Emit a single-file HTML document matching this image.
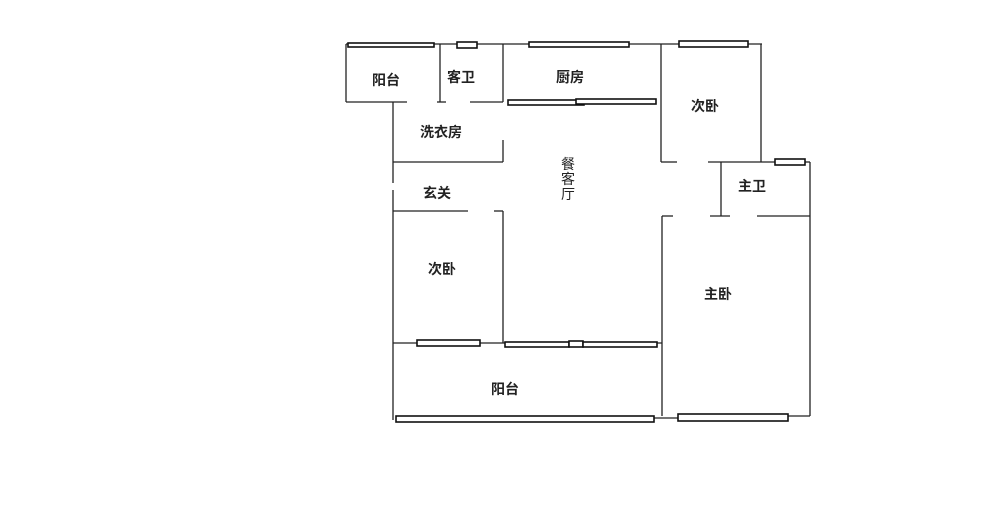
<!DOCTYPE html>
<html><head><meta charset="utf-8"><style>
html,body{margin:0;padding:0;background:#fff;}
svg{display:block}
text{font-family:"Liberation Sans","Noto Sans CJK SC",sans-serif;font-size:14px;font-weight:bold;fill:#222;text-anchor:middle;dominant-baseline:central}
</style></head><body>
<svg width="1000" height="516" viewBox="0 0 1000 516">
<g stroke="#222" stroke-width="1.3" fill="none">
<line x1="346" y1="44" x2="762" y2="44"/>
<line x1="346" y1="44" x2="346" y2="102"/>
<line x1="346" y1="102" x2="407" y2="102"/>
<line x1="437" y1="102" x2="446" y2="102"/>
<line x1="470" y1="102" x2="503" y2="102"/>
<line x1="440" y1="44" x2="440" y2="102"/>
<line x1="503" y1="44" x2="503" y2="102"/>
<line x1="661" y1="44" x2="661" y2="162"/>
<line x1="393" y1="102" x2="393" y2="183"/>
<line x1="393" y1="190" x2="393" y2="420"/>
<line x1="393" y1="162" x2="503" y2="162"/>
<line x1="503" y1="140" x2="503" y2="162"/>
<line x1="393" y1="211" x2="468" y2="211"/>
<line x1="494" y1="211" x2="503" y2="211"/>
<line x1="503" y1="211" x2="503" y2="343"/>
<line x1="393" y1="343" x2="503" y2="343"/>
<line x1="503" y1="343" x2="662" y2="343"/>
<line x1="761" y1="44" x2="761" y2="162"/>
<line x1="661" y1="162" x2="677" y2="162"/>
<line x1="708" y1="162" x2="775" y2="162"/>
<line x1="805" y1="162" x2="810" y2="162"/>
<line x1="810" y1="162" x2="810" y2="416"/>
<line x1="721" y1="162" x2="721" y2="216"/>
<line x1="710" y1="216" x2="730" y2="216"/>
<line x1="757" y1="216" x2="810" y2="216"/>
<line x1="662" y1="216" x2="673" y2="216"/>
<line x1="662" y1="216" x2="662" y2="416"/>
<line x1="654" y1="418" x2="678" y2="418"/>
<line x1="788" y1="416" x2="810" y2="416"/>
</g>
<g stroke="#111" stroke-width="1.6" fill="#fff">
<rect x="348" y="43" width="86" height="4"/>
<rect x="457" y="42" width="20" height="6"/>
<rect x="529" y="42" width="100" height="5"/>
<rect x="679" y="41" width="69" height="6"/>
<rect x="508" y="100" width="76" height="5"/>
<rect x="576" y="99" width="80" height="5"/>
<rect x="775" y="159" width="30" height="6"/>
<rect x="417" y="340" width="63" height="6"/>
<rect x="505" y="342" width="64" height="5"/>
<rect x="569" y="341" width="14" height="6"/>
<rect x="583" y="342" width="74" height="5"/>
<rect x="396" y="416" width="258" height="6"/>
<rect x="678" y="414" width="110" height="7"/>
</g>
<text x="386" y="80">阳台</text>
<text x="461" y="77">客卫</text>
<text x="570" y="77">厨房</text>
<text x="441" y="132">洗衣房</text>
<text x="568" y="164" style="font-weight:normal">餐</text>
<text x="568" y="179" style="font-weight:normal">客</text>
<text x="568" y="194" style="font-weight:normal">厅</text>
<text x="437" y="193">玄关</text>
<text x="442" y="269">次卧</text>
<text x="705" y="106">次卧</text>
<text x="752" y="186">主卫</text>
<text x="718" y="294">主卧</text>
<text x="505" y="389">阳台</text>
</svg>
</body></html>
